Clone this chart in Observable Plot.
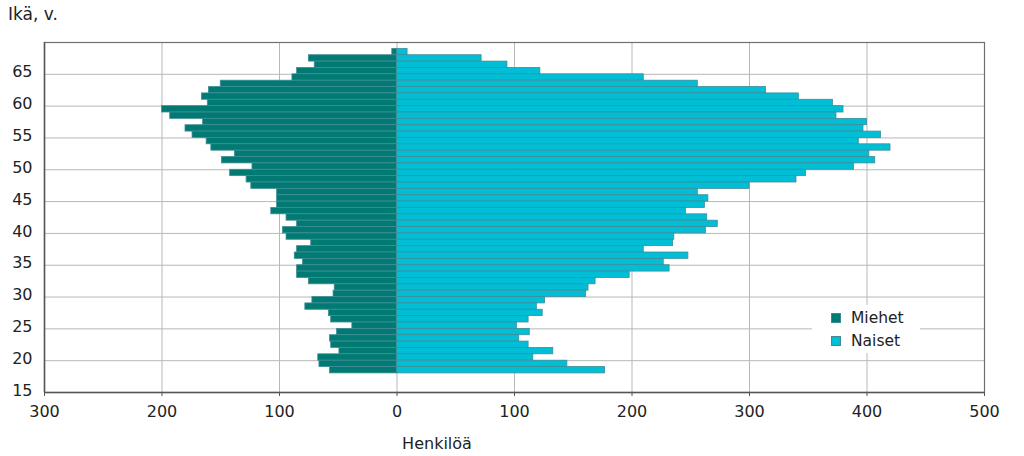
<!DOCTYPE html>
<html><head><meta charset="utf-8">
<script src="https://cdn.jsdelivr.net/npm/d3@7"></script>
<script src="https://cdn.jsdelivr.net/npm/@observablehq/plot@0.6"></script>
<style>
body{margin:0;background:#fff;font-family:"DejaVu Sans",Verdana,sans-serif;color:#222;}
#wrap{position:relative;width:1024px;height:456px;overflow:hidden;}
#title{position:absolute;left:8px;top:4px;font-size:17px;}
#xlabel{position:absolute;left:437px;top:434px;transform:translateX(-50%);font-size:16px;white-space:nowrap;}
#legend{position:absolute;left:812px;top:305px;width:108px;height:48px;background:#fff;}
.item{position:absolute;left:19px;font-size:15.5px;white-space:nowrap;line-height:18px;}
.sw{position:absolute;left:0;top:4px;width:8px;height:8px;border:1px solid #3d8a94;}
.item span.t{position:absolute;left:20px;top:0;}
svg{position:absolute;left:0;top:0;}
</style></head><body><div id="wrap">
<div id="title">Ikä, v.</div>
<div id="xlabel">Henkilöä</div>
</div>
<script>
const ages  = [68,67,66,65,64,63,62,61,60,59,58,57,56,55,54,53,52,51,50,49,48,47,46,45,44,43,42,41,40,39,38,37,36,35,34,33,32,31,30,29,28,27,26,25,24,23,22,21,20,19,18];
const men   = [4,75,70,85,89,150,160,166,161,200,193,165,180,174,162,158,138,149,123,142,128,124,102,102,102,107,94,85,97,94,73,85,87,80,85,85,75,53,54,72,78,58,56,38,51,57,56,49,67,66,57];
const women = [9,72,94,122,210,256,314,342,371,380,374,400,397,412,393,420,402,407,389,348,340,300,256,265,262,246,264,273,263,236,235,210,248,227,232,198,169,163,161,126,119,124,112,102,113,104,112,133,116,145,177];
const seriesNames = ["Miehet", "Naiset"];
const colors = ["#007a72", "#00bed6"];
const xTicks = [-300,-200,-100,0,100,200,300,400,500];
const yTicks = [15,20,25,30,35,40,45,50,55,60,65];

const rows = ages.map((a, i) => ({age: a, men: men[i], women: women[i]}));
const edge = "#3f8d96";

const chart = Plot.plot({
  width: 1024,
  height: 456,
  marginLeft: 44,
  marginRight: 40,
  marginTop: 42,
  marginBottom: 64,
  style: {fontFamily: '"DejaVu Sans", Verdana, sans-serif', fontSize: "16px", color: "#222", background: "transparent"},
  x: {domain: [-300, 500]},
  y: {domain: [15, 70]},
  marks: [
    Plot.gridX(xTicks, {stroke: "#b8b8b8", strokeOpacity: 1}),
    Plot.gridY(yTicks, {stroke: "#b8b8b8", strokeOpacity: 1}),
    Plot.rectX(rows, {x1: 0, x2: d => -d.men, y1: "age", y2: d => d.age + 1, fill: colors[0], stroke: edge, strokeWidth: 0.8, inset: 0}),
    Plot.rectX(rows, {x1: 0, x2: "women", y1: "age", y2: d => d.age + 1, fill: colors[1], stroke: edge, strokeWidth: 0.8, inset: 0}),
    Plot.frame({stroke: "#707070", strokeWidth: 1.2}),
    Plot.axisX({ticks: xTicks, tickFormat: d => Math.abs(d), tickSize: 4, tickPadding: 9, label: null, stroke: "#555", fontSize: 16}),
    Plot.axisY({ticks: yTicks, tickSize: 0, tickPadding: 12, dy: -2, label: null, fontSize: 16}),
    Plot.ruleY([15], {stroke: "#555", strokeWidth: 1.5}),
    Plot.ruleX([-300], {stroke: "#555", strokeWidth: 1.5})
  ]
});
const wrap = document.getElementById("wrap");
wrap.insertBefore(chart, wrap.firstChild);

const legend = document.createElement("div");
legend.id = "legend";
seriesNames.forEach((name, i) => {
  const it = document.createElement("div");
  it.className = "item";
  it.style.top = (4 + i * 23) + "px";
  const sw = document.createElement("span");
  sw.className = "sw";
  sw.style.background = colors[i];
  const t = document.createElement("span");
  t.className = "t";
  t.textContent = name;
  it.appendChild(sw); it.appendChild(t);
  legend.appendChild(it);
});
wrap.appendChild(legend);
</script>
</body></html>
